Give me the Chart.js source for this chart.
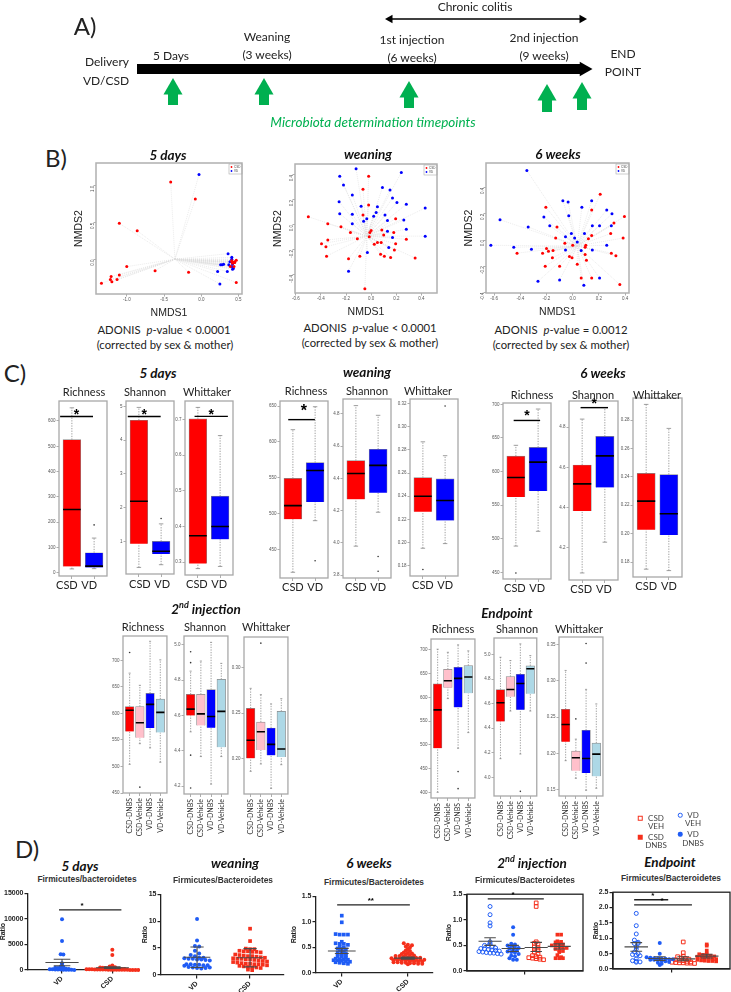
<!DOCTYPE html>
<html>
<head>
<meta charset="utf-8">
<title>Microbiota timepoints</title>
<script src="https://cdn.jsdelivr.net/npm/chart.js@4"></script>
<style>
  body { margin: 0; background: #fff; }
  #page { position: relative; width: 731px; height: 992px; overflow: hidden; }
  canvas { position: absolute; }
  .t { position: absolute; transform: translate(-50%, -50%); white-space: nowrap; font-family: Lato, sans-serif; color: #222; }
  .mark { position: absolute; box-sizing: border-box; transform: translate(-50%, -50%); }
</style>
</head>
<body>
<div id="page"></div>
<script>
// Panel A timeline
const timelineStart = 137, timelineEnd = 582, timelineHead = 584, timelineY = 69;
const colitisFrom = 390, colitisTo = 582, colitisY = 19;
const arrowX = [173, 264, 409, 547, 582];
const arrowTop = [79, 79, 82, 85, 83];
const arrowBottom = [105, 105, 108, 112, 110];

// Panel B ordinations [NMDS1, NMDS2]
const nmds5dCsd = [[-.41,1.05],[-.08,.82],[-1.10,.49],[-.86,.39],[-1.0,-.095],[-.62,-.15],[-.17,-.17],[-1.10,-.21],[-1.21,-.23],[-1.22,-.27],[-1.20,-.30],[-1.13,-.27],[-1.34,-.32],[.47,-.31],[.47,-.01],[.45,-.03],[.41,-.03],[.43,-.04],[.45,-.04],[.42,-.05],[.39,-.095],[.44,-.095],[.41,-.015]];
const nmds5dVd = [[-.03,1.15],[.36,.08],[.41,.03],[.41,.005],[.385,-.03],[.44,-.04],[.42,-.06],[.37,-.07],[.30,-.065],[.26,-.07],[.28,-.07],[.22,-.16],[.35,-.16],[.42,-.13],[.41,-.095],[.25,-.33],[.43,-.12]];
const nmds5dCentre = [-.354, .005];
const nmdsWeanVd = [[-.12,.45],[-.25,.39],[.24,.42],[-.22,.32],[.09,.30],[.15,.28],[-.15,.24],[.17,.215],[-.255,.185],[.205,.18],[.28,.165],[-.08,.15],[.05,.145],[.43,.135],[.04,.10],[-.25,.09],[-.15,.085],[.11,.08],[.02,.07],[-.035,.05],[.26,.04],[.13,.035],[-.06,.03],[-.15,.01],[.28,-.035],[.13,-.05],[.17,-.10],[.43,-.09],[.14,-.18],[-.03,-.22],[-.18,-.37]];
const nmdsWeanCsd = [[-.02,.39],[-.065,.285],[-.02,.16],[-.50,.065],[-.065,.08],[.195,.05],[-.345,.01],[-.24,-.015],[.085,-.04],[0,-.045],[-.01,-.06],[-.165,-.06],[.18,-.06],[.10,-.08],[-.015,-.095],[-.11,-.11],[-.345,-.12],[.28,-.115],[.05,-.14],[.08,-.14],[-.395,-.15],[.025,-.155],[.195,-.15],[-.36,-.175],[.185,-.20],[.075,-.235],[.105,-.25],[.155,-.26],[-.09,-.25],[-.355,-.25],[-.18,-.27],[.35,-.265],[-.05,-.51]];
const nmdsWeanCentre = [-.035, -.09];
const nmds6wVd = [[-.35,.53],[-.075,.30],[-.035,.29],[.145,.30],[.07,.25],[.26,.23],[.30,.20],[-.22,.175],[-.03,.185],[-.555,.155],[-.34,.10],[-.175,.11],[.15,.11],[.205,.11],[.295,.11],[-.01,.05],[.09,.05],[-.055,.025],[.015,.015],[.035,-.015],[-.625,-.04],[-.45,-.055],[-.315,-.07],[-.055,-.075],[.065,-.08],[.15,-.075],[.26,-.04],[-.10,-.305],[-.265,-.315],[.085,-.345],[.205,-.29]];
const nmds6wCsd = [[.21,.35],[-.205,.25],[.145,.23],[.395,.18],[.315,.13],[-.12,.10],[.29,.05],[-.13,.015],[.145,.035],[.385,.015],[.12,.01],[-.06,-.025],[0,-.04],[.10,-.04],[.095,-.055],[-.20,-.065],[-.15,-.08],[-.185,-.085],[-.23,-.10],[-.425,-.10],[.295,-.10],[.095,-.11],[.33,-.12],[-.025,-.125],[-.005,-.135],[-.155,-.135],[.105,-.155],[.035,-.185],[-.21,-.20],[-.10,-.20],[.065,-.29],[.145,-.29],[.36,-.34]];
const nmds6wCentre = [.035, -.045];

// Panel C boxes, each [low whisker, q1, median, q3, high whisker]
const groupsTwo = ['CSD', 'VD'];
const groupsFour = ['CSD-DNBS', 'CSD-Vehicle', 'VD-DNBS', 'VD-Vehicle'];
const rich5d = [[15,25,250,526,652],[16,21,26,79,137]];
const rich5dOut = [[],[189]];
const shan5d = [[.23,.93,2.19,4.59,4.97],[.31,.63,.71,1.0,1.52]];
const shan5dOut = [[],[1.68]];
const whit5d = [[.282,.296,.374,.702,.734],[.288,.364,.40,.485,.655]];
const whit5dOut = [[],[]];
const richWean = [[418,492,511,549,617],[490,516,560,571,649]];
const richWeanOut = [[],[434]];
const shanWean = [[3.98,4.27,4.43,4.51,4.85],[4.19,4.31,4.48,4.58,4.79]];
const shanWeanOut = [[],[3.916,3.825]];
const whitWean = [[.195,.2266,.24,.256,.287],[.199,.219,.2363,.255,.275]];
const whitWeanOut = [[.1766],[.318]];
const rich6w = [[489,562,591,623,639],[511,571,614,636,693]];
const rich6wOut = [[449],[]];
const shan6w = [[4.075,4.383,4.518,4.612,4.84],[4.228,4.5,4.657,4.754,4.897]];
const shan6wOut = [[],[]];
const whit6w = [[.175,.2027,.2229,.2425,.291],[.174,.199,.214,.2416,.2741]];
const whit6wOut = [[],[]];
const richInj = [[504,566,606,613,676],[543,554,582.5,613,653],[535,572.5,617,638,736],[508,564,602,627,701]];
const richInjOut = [[715],[461],[],[]];
const shanInj = [[4.507,4.6,4.636,4.72,4.851],[4.367,4.543,4.609,4.719,4.908],[4.211,4.53,4.594,4.746,5.014],[4.367,4.42,4.623,4.804,4.895]];
const shanInjOut = [[4.961,4.899,4.375,4.189],[],[],[]];
const whitInj = [[.1857,.20,.2199,.2551,.2772],[.1938,.2092,.2294,.24,.2702],[.1669,.2033,.2154,.2335,.26],[.193,.2015,.2103,.2518,.2658]];
const whitInjOut = [[],[.327],[],[]];
const richEnd = [[400,492.8,573.6,628.4,701.5],[597.5,621,635,659,695],[492.8,579,640,663.5,710.6],[525.8,608.7,643,667,698]];
const richEndOut = [[],[],[443.6,407.7],[]];
const shanEnd = [[4.152,4.455,4.607,4.715,4.978],[4.54,4.656,4.715,4.82,4.951],[4.19,4.55,4.764,4.84,5.087],[4.54,4.68,4.884,4.908,4.992]];
const shanEndOut = [[],[],[3.886],[]];
const whitEnd = [[.19,.216,.2398,.2609,.3144],[.1657,.1762,.194,.2032,.2197],[.1492,.173,.1931,.232,.2883],[.152,.1684,.199,.2142,.2682]];
const whitEndOut = [[],[.2476],[.3245,.3515],[]];

// Panel D ratios
const ratioGroupsTwo = ['VD', 'CSD'];
const ratio5dVd = [9890,5680,3060,3040,1300,1150,700,600,450,400,300,300,250,200,150,150,100,100,80,60,50,40,30,20];
const ratio5dCsd = [3960,2930,890,700,600,550,500,450,400,350,300,300,250,250,200,200,150,150,150,100,100,100,80,80,60,60,50,50,40,40,30,30,20,20,10,10];
const ratio5dMean = [1470,450];
const ratio5dErr = [[830,2100],[300,620]];
const ratioWeanVd = [10.4,6.4,5.4,5.3,4.5,4.0,3.7,3.5,3.2,3.2,3.1,3.0,3.0,2.9,2.9,2.8,2.7,2.0,2.0,1.9,1.9,1.8,1.7,1.8,1.5,1.4,1.3,1.2,1.3,1.4];
const ratioWeanCsd = [8.6,6.3,4.9,4.8,4.8,4.5,4.4,4.4,4.3,4.3,4.2,3.8,3.7,3.6,3.5,3.5,3.4,3.3,3.2,3.1,3.0,3.0,2.9,2.9,2.8,2.7,2.6,2.5,2.4,2.3,2.2,2.1,2.1,2.0,2.0,1.9,1.8,1.7,1.6,1.5,1.4,1.4,1.3,1.0,.9];
const ratioWeanMean = [3.3,3.2];
const ratioWeanErr = [[1.4,5.2],[1.5,4.9]];
const ratio6wVd = [1.12,.99,.76,.75,.75,.75,.61,.58,.57,.57,.55,.52,.5,.48,.47,.46,.44,.42,.40,.39,.38,.36,.35,.34,.33,.32,.3,.28,.27,.27,.26,.25,.25,.24,.23,.22,.21,.2,.19,.18];
const ratio6wCsd = [.58,.55,.54,.52,.5,.47,.44,.43,.4,.39,.38,.37,.36,.35,.34,.33,.33,.32,.31,.3,.3,.3,.29,.29,.28,.28,.27,.27,.26,.26,.26,.25,.25,.24,.24,.23,.23,.22,.22,.21,.21,.2,.2,.19,.19,.18,.18,.17];
const ratio6wMean = [.43,.29];
const ratio6wErr = [[.38,.48],[.27,.31]];
const ratioInjVdVeh = [1.26,1.1,.94,.88,.57,.53,.5,.49,.47,.45,.44,.43,.42,.41,.4,.39,.38,.37,.36,.35,.35,.34,.33];
const ratioInjVdDnbs = [.855,.71,.53,.52,.5,.49,.47,.45,.44,.42,.4,.38,.37,.36,.33,.3,.29,.25,.22,.22];
const ratioInjCsdVeh = [1.33,1.26,.57,.54,.53,.47,.45,.42,.4,.37,.34,.3,.28,.27,.26,.25,.24,.23,.22];
const ratioInjCsdDnbs = [.71,.71,.58,.57,.56,.54,.52,.5,.5,.48,.46,.45,.43,.41,.39,.37,.31,.27,.25,.25,.25];
const ratioInjMean = [.58,.44,.46,.48];
const ratioInjErr = [[.5,.65],[.38,.5],[.38,.56],[.43,.53]];
const ratioEndVdVeh = [1.81,1.41,1.14,.94,.87,.83,.83,.72,.65,.55,.5,.47,.45,.43,.33,.27,.25,.23,.22];
const ratioEndVdDnbs = [.85,.5,.38,.37,.35,.34,.33,.33,.32,.32,.3,.3,.29,.27,.25,.23,.2,.17,.13];
const ratioEndCsdVeh = [.88,.53,.42,.4,.36,.34,.32,.3,.28,.27,.25,.23,.22,.21,.2,.2,.19,.19,.18];
const ratioEndCsdDnbs = [.8,.76,.6,.5,.48,.46,.45,.43,.41,.4,.39,.38,.36,.34,.32,.3,.28,.27,.26,.26,.25];
const ratioEndMean = [.72,.34,.33,.42];
const ratioEndErr = [[.58,.86],[.28,.4],[.27,.4],[.36,.48]];

Chart.defaults.animation = false;
Chart.defaults.responsive = false;
Chart.defaults.font.family = 'Lato';

const page = document.getElementById('page');
const RED = '#ff0000', BLUE = '#0000ff', PINK = '#ffc0cb', LIGHTBLUE = '#add8e6';
const DOT_BLUE = '#1f5cf5', DOT_RED = '#f5301c', GREEN = '#00b050';

function text(html, x, y, style) {
    const d = document.createElement('div');
    d.className = 't';
    d.innerHTML = html;
    d.style.left = x + 'px';
    d.style.top = y + 'px';
    d.style.cssText += ';' + (style || 'font-size:12px');
    page.appendChild(d);
}

function seg(list) {
    const out = [];
    list.forEach(s => out.push({x: s[0], y: s[1]}, {x: s[2], y: s[3]}, {x: NaN, y: NaN}));
    return out;
}

function lineSet(data, color, width, dash, order) {
    return {type: 'scatter', showLine: true, data: data, borderColor: color, borderWidth: width,
        borderDash: dash || [], pointRadius: 0, order: order || 0, clip: false};
}

// spreads values sideways into rows like a prism dot plot
function swarm(values, center, step, bin) {
    const rows = {};
    values.forEach(v => {
        const k = Math.round(v / bin);
        (rows[k] = rows[k] || []).push(v);
    });
    return Object.values(rows).flatMap(r => r.map((v, i) => ({x: center + (i - (r.length - 1) / 2) * step, y: v})));
}

// frame, significance text and the tiny R legend, placed with the chart scales
function extras(o) {
    return {
        id: 'extras',
        afterDraw(chart) {
            const c = chart.ctx, a = chart.chartArea;
            c.save();
            if (o.frame) {
                c.strokeStyle = o.frame;
                c.lineWidth = o.frameWidth || 1.2;
                c.strokeRect(a.left, a.top, a.width, a.height);
            }
            (o.stars || []).forEach(s => {
                c.fillStyle = '#000';
                c.font = 'bold ' + s.size + 'px "Liberation Sans"';
                c.textAlign = 'center';
                c.textBaseline = 'middle';
                c.fillText(s.text, chart.scales.x.getPixelForValue(s.x), chart.scales.y.getPixelForValue(s.y) + s.dy);
            });
            if (o.legend) {
                const w = 13, h = 10, x = a.right - w, y = a.top + 1;
                c.strokeStyle = '#aaa';
                c.lineWidth = .6;
                c.strokeRect(x, y, w, h);
                c.font = '3px "Liberation Sans"';
                c.textAlign = 'left';
                c.textBaseline = 'middle';
                [[RED, 'CSD', 3], [BLUE, 'VD', 7]].forEach(l => {
                    c.fillStyle = l[0];
                    c.beginPath();
                    c.arc(x + 2.5, y + l[2], .9, 0, 7);
                    c.fill();
                    c.fillStyle = '#444';
                    c.fillText(l[1], x + 5, y + l[2]);
                });
            }
            c.restore();
        }
    };
}

// makes a chart whose plot area sits exactly on frame [left, top, right, bottom]
function plot(frame, m, config) {
    const cv = document.createElement('canvas');
    cv.width = frame[2] - frame[0] + m.l + m.r;
    cv.height = frame[3] - frame[1] + m.t + m.b;
    cv.style.left = (frame[0] - m.l) + 'px';
    cv.style.top = (frame[1] - m.t) + 'px';
    page.appendChild(cv);
    config.options.layout = {autoPadding: false, padding: {top: m.t, right: m.r, left: 0, bottom: 0}};
    config.options.scales.x.afterFit = s => { s.height = m.b; };
    config.options.scales.y.afterFit = s => { s.width = m.l; };
    config.options.plugins = {legend: {display: false}, tooltip: {enabled: false}};
    return new Chart(cv, config);
}

function fixedTicks(vals) {
    return s => { s.ticks = vals.map(value => ({value})); };
}

// Panel A
plot([0, 0, 731, 135], {l: 0, r: 0, t: 0, b: 0}, {
    type: 'scatter',
    data: {datasets: [
        lineSet(seg([[timelineStart, timelineY, timelineEnd, timelineY]]), '#000', 10),
        {data: [{x: timelineHead, y: timelineY}], pointStyle: 'triangle', pointRadius: 8.5, pointRotation: 90, pointBackgroundColor: '#000', pointBorderWidth: 0},
        lineSet(seg([[colitisFrom, colitisY, colitisTo, colitisY]]), '#000', 1.5),
        {data: [{x: colitisFrom, y: colitisY}], pointStyle: 'triangle', pointRadius: 5, pointRotation: -90, pointBackgroundColor: '#000', pointBorderWidth: 0},
        {data: [{x: colitisTo, y: colitisY}], pointStyle: 'triangle', pointRadius: 5, pointRotation: 90, pointBackgroundColor: '#000', pointBorderWidth: 0},
        lineSet(seg(arrowX.map((x, i) => [x, arrowTop[i] + 8, x, arrowBottom[i]])), GREEN, 10),
        {data: arrowX.map((x, i) => ({x: x, y: arrowTop[i] + 10})), pointStyle: 'triangle', pointRadius: 11, pointBackgroundColor: GREEN, pointBorderWidth: 0}
    ]},
    options: {scales: {
        x: {display: false, min: 0, max: 731},
        y: {display: false, min: 0, max: 135, reverse: true}
    }}
});

const headLetter = 'font-size:24px';
const bigTitle = 'font-size:13.5px;font-weight:700;font-style:italic;color:#111';
const plain = 'font-size:11.3px;color:#222';
const timeline = 'font-size:12px;color:#222';
text('A)', 85, 25, headLetter);
text('Chronic colitis', 475, 6, timeline);
text('Delivery', 107, 61, timeline);
text('VD/CSD', 106, 80, timeline);
text('5 Days', 171, 55, timeline);
text('Weaning', 267, 36, timeline);
text('(3 weeks)', 267, 54, timeline);
text('1st injection', 412, 39, timeline);
text('(6 weeks)', 412, 57, timeline);
text('2nd injection', 544, 37, timeline);
text('(9 weeks)', 544, 55, timeline);
text('END', 623, 53, timeline);
text('POINT', 623, 71, timeline);
text('Microbiota determination timepoints', 373, 122, 'font-size:13.5px;font-style:italic;color:#00b050');

// Panel B
function nmdsPlot(frame, rangeX, rangeY, ticksX, ticksY, csd, vd, centre) {
    const pts = a => a.map(p => ({x: p[0], y: p[1]}));
    const spokes = csd.concat(vd).map(p => [centre[0], centre[1], p[0], p[1]]);
    const axis = vals => ({
        afterBuildTicks: fixedTicks(vals),
        grid: {drawOnChartArea: false, tickLength: 2.5, color: '#777', lineWidth: .6},
        border: {display: false}
    });
    const tick = {font: {size: 4.5, family: 'Liberation Sans'}, color: '#555', padding: 1, autoSkip: false, callback: v => v.toFixed(1)};
    const title = t => ({display: true, text: t, font: {size: 10.5, family: 'Liberation Sans'}, color: '#222', padding: 1});
    plot(frame, {l: 24, r: 2, t: 4, b: 26}, {
        type: 'scatter',
        data: {datasets: [
            {data: pts(csd), pointRadius: 1.5, pointBackgroundColor: RED, pointBorderWidth: 0, order: 0},
            {data: pts(vd), pointRadius: 1.5, pointBackgroundColor: BLUE, pointBorderWidth: 0, order: 0},
            lineSet(seg(spokes), '#dedede', .6, [1, 1], 5)
        ]},
        options: {scales: {
            x: Object.assign(axis(ticksX), {min: rangeX[0], max: rangeX[1], ticks: Object.assign({maxRotation: 0}, tick), title: title('NMDS1')}),
            y: Object.assign(axis(ticksY), {min: rangeY[0], max: rangeY[1], ticks: Object.assign({minRotation: 90, maxRotation: 90}, tick), title: title('NMDS2')})
        }},
        plugins: [extras({frame: '#b0b0b0', frameWidth: 1.5, legend: true})]
    });
}

nmdsPlot([96, 163, 242, 294], [-1.413, .547], [-.466, 1.307], [-1, -.5, 0, .5], [0, .5, 1], nmds5dCsd, nmds5dVd, nmds5dCentre);
nmdsPlot([295, 164, 437, 293], [-.606, .524], [-.545, .487], [-.6, -.4, -.2, 0, .2, .4], [-.4, -.2, 0, .2, .4], nmdsWeanCsd, nmdsWeanVd, nmdsWeanCentre);
nmdsPlot([486, 163, 629, 293], [-.662, .43], [-.404, .588], [-.6, -.4, -.2, 0, .2, .4], [-.4, -.2, 0, .2, .4], nmds6wCsd, nmds6wVd, nmds6wCentre);

text('B)', 56, 157, headLetter);
text('5 days', 168, 155, bigTitle);
text('weaning', 368, 154, bigTitle);
text('6 weeks', 558, 154, bigTitle);
text('ADONIS &nbsp;<i>p</i>-value &lt; 0.0001', 164, 329, plain);
text('(corrected by sex &amp; mother)', 165, 344, plain);
text('ADONIS &nbsp;<i>p</i>-value &lt; 0.0001', 370, 327, plain);
text('(corrected by sex &amp; mother)', 370, 342, plain);
text('ADONIS &nbsp;<i>p</i>-value = 0.0012', 561, 329, plain);
text('(corrected by sex &amp; mother)', 561, 344, plain);

// Panel C
function boxPlot(p) {
    const n = p.stats.length;
    const rangeX = n === 2 ? [.42, 2.58] : [.35, 4.65];
    const width = (p.frame[2] - p.frame[0]) / (rangeX[1] - rangeX[0]) * .8;
    const colors = n === 2 ? [RED, BLUE] : [RED, PINK, BLUE, LIGHTBLUE];
    const names = n === 2 ? groupsTwo : groupsFour;
    const whisk = [], caps = [], medians = [], dots = [];
    p.stats.forEach((b, i) => {
        const x = i + 1;
        whisk.push([x, b[0], x, b[1]], [x, b[3], x, b[4]]);
        caps.push([x - .1, b[0], x + .1, b[0]], [x - .1, b[4], x + .1, b[4]]);
        medians.push([x - .4, b[2], x + .4, b[2]]);
        p.out[i].forEach(v => dots.push({x: x, y: v}));
    });
    const sets = [
        lineSet(seg(medians), '#000', 1.6, null, 0),
        {type: 'bar', data: p.stats.map((b, i) => ({x: i + 1, y: [b[1], b[3]]})), backgroundColor: colors,
            borderColor: '#8a8a8a', borderWidth: .7, barThickness: width, order: 1},
        lineSet(seg(whisk), '#777', .7, [1.3, 1.3], 2),
        lineSet(seg(caps), '#777', .7, null, 2),
        {type: 'scatter', data: dots, pointRadius: .8, pointBackgroundColor: '#333', pointBorderWidth: 0, order: 2}
    ];
    const stars = [];
    if (p.sig) {
        sets.unshift(lineSet(seg([[p.sig[0], p.sig[2], p.sig[1], p.sig[2]]]), '#000', 1.4));
        stars.push({x: (p.sig[0] + p.sig[1]) / 2 + (p.sig[4] || 0), y: p.sig[2], text: '*', size: p.starSize || 14, dy: p.sig[3]});
    }
    plot(p.frame, {l: 16, r: 2, t: 4, b: n === 2 ? 22 : 46}, {
        type: 'bar',
        data: {datasets: sets},
        options: {scales: {
            x: {type: 'linear', offset: false, min: rangeX[0], max: rangeX[1],
                afterBuildTicks: fixedTicks(names.map((_, i) => i + 1)),
                grid: {offset: false, drawOnChartArea: false, tickLength: 3, color: '#777', lineWidth: .6},
                border: {display: false},
                ticks: n === 2
                    ? {font: {size: 11}, color: '#222', padding: p.labelPad || 0, labelOffset: p.labelShift || 0, maxRotation: 0, autoSkip: false, callback: v => names[v - 1]}
                    : {font: {size: 7}, color: '#333', padding: 2, minRotation: 90, maxRotation: 90, autoSkip: false, callback: v => names[v - 1]}},
            y: {min: p.rangeY[0], max: p.rangeY[1],
                afterBuildTicks: fixedTicks(p.ticks),
                grid: {drawOnChartArea: false, tickLength: 2.5, color: '#777', lineWidth: .6},
                border: {display: false},
                ticks: {font: {size: 4.5, family: 'Liberation Sans'}, color: '#555', padding: 1, autoSkip: false, callback: v => v.toFixed(p.dec)}}
        }},
        plugins: [extras({frame: '#a8a8a8', frameWidth: 1.3, stars: stars})]
    });
}

const boxPanels = [
    {frame: [59.3, 401, 107.3, 576], stats: rich5d, out: rich5dOut, rangeY: [-13, 679], ticks: [0,100,200,300,400,500,600], dec: 0, sig: [.47, 1.95, 618, -1], labelShift: -5},
    {frame: [126, 400.7, 174, 574], stats: shan5d, out: shan5dOut, rangeY: [.035, 5.16], ticks: [1,2,3,4,5], dec: 0, sig: [.5, 1.98, 4.70, -1], labelShift: 1, labelPad: 1},
    {frame: [184.7, 400.7, 232.7, 574.7], stats: whit5d, out: whit5dOut, rangeY: [.264, .752], ticks: [.3,.4,.5,.6,.7], dec: 1, sig: [.85, 2.35, .709, -1], labelShift: -1},
    {frame: [280, 400.7, 328.3, 578.3], stats: richWean, out: richWeanOut, rangeY: [410, 657], ticks: [450,500,550,600,650], dec: 0, sig: [.79, 1.99, 631, -8, .1], starSize: 16, labelShift: 0},
    {frame: [343, 399, 391.7, 578], stats: shanWean, out: shanWeanOut, rangeY: [3.783, 4.891], ticks: [3.8,4,4.2,4.4,4.6,4.8], dec: 1, labelShift: 0},
    {frame: [410.3, 399.3, 459, 577.3], stats: whitWean, out: whitWeanOut, rangeY: [.171, .324], ticks: [.18,.2,.22,.24,.26,.28,.3,.32], dec: 2, labelShift: 0},
    {frame: [503.3, 402.7, 552.3, 579.3], stats: rich6w, out: rich6wOut, rangeY: [440, 702], ticks: [450,500,550,600,650,700], dec: 0, sig: [.9, 2.09, 676, -4], labelShift: -1},
    {frame: [569.3, 401, 619, 580.7], stats: shan6w, out: shan6wOut, rangeY: [4.04, 4.93], ticks: [4.2,4.4,4.6,4.8], dec: 1, sig: [.93, 2.14, 4.897, -3], labelShift: -1},
    {frame: [632.7, 398, 681.7, 577.3], stats: whit6w, out: whit6wOut, rangeY: [.1695, .2955], ticks: [.18,.2,.22,.24,.26,.28], dec: 2, labelShift: 0},
    {frame: [123.3, 636, 169.3, 793.3], stats: richInj, out: richInjOut, rangeY: [450, 746], ticks: [450,500,550,600,650,700], dec: 0},
    {frame: [184.3, 636, 230.7, 794], stats: shanInj, out: shanInjOut, rangeY: [4.155, 5.05], ticks: [4.2,4.4,4.6,4.8,5], dec: 1},
    {frame: [244.3, 637, 290.3, 794], stats: whitInj, out: whitInjOut, rangeY: [.1607, .3338], ticks: [.2,.25,.3], dec: 2},
    {frame: [431, 639, 477.3, 798], stats: richEnd, out: richEndOut, rangeY: [388, 723], ticks: [400,450,500,550,600,650,700], dec: 0},
    {frame: [494.3, 638.3, 540.3, 796.7], stats: shanEnd, out: shanEndOut, rangeY: [3.848, 5.135], ticks: [4,4.2,4.4,4.6,4.8,5], dec: 1},
    {frame: [559.3, 637, 605.7, 796.7], stats: whitEnd, out: whitEndOut, rangeY: [.1413, .3605], ticks: [.15,.2,.25,.3,.35], dec: 2}
];
boxPanels.forEach(boxPlot);

const metric = 'font-size:11px;color:#222';
text('C)', 15, 372, headLetter);
text('5 days', 158, 373, bigTitle);
text('weaning', 367, 372, bigTitle);
text('6 weeks', 603, 373, bigTitle);
[[84, 391, 145, 391, 207, 391], [306, 390, 367, 390, 428, 390], [532, 394, 593, 394, 657, 394], [143, 626, 205, 626, 266, 626], [453, 628, 517, 628, 579, 628]].forEach(r => {
    text('Richness', r[0], r[1], metric);
    text('Shannon', r[2], r[3], metric);
    text('Whittaker', r[4], r[5], metric);
});
text('2<sup style="font-size:9px">nd</sup> injection', 206, 608, bigTitle);
text('Endpoint', 507, 613, bigTitle);

// Panel D
function dotPlot(p) {
    const sets = [];
    p.groups.forEach((g, i) => {
        sets.push({
            data: swarm(g.values, i + 1, p.step, p.bin), pointStyle: g.style, pointRadius: g.style === 'rect' ? 2.6 : 2,
            pointBackgroundColor: g.open ? 'rgba(255,255,255,0)' : g.color, pointBorderColor: g.color,
            pointBorderWidth: g.open ? 1 : 0, order: 2, clip: false
        });
    });
    const bars = [];
    p.mean.forEach((m, i) => {
        const x = i + 1, e = p.err[i];
        bars.push([x - p.half, m, x + p.half, m], [x, e[0], x, e[1]],
            [x - p.half / 2, e[0], x + p.half / 2, e[0]], [x - p.half / 2, e[1], x + p.half / 2, e[1]]);
    });
    sets.push(lineSet(seg(bars), '#4a4a4a', 1.1, null, 1));
    const stars = [];
    (p.sig || []).forEach(s => {
        sets.push(lineSet(seg([[s[0], s[2], s[1], s[2]]]), '#222', 1.3));
        stars.push({x: s[4], y: s[2], text: s[3], size: 8, dy: -4});
    });
    const tickFont = {size: 7, weight: 'bold', family: 'Liberation Sans'};
    const line = {drawOnChartArea: false, tickLength: 3.5, color: '#222', lineWidth: 1.2};
    plot(p.frame, {l: p.left, r: 2, t: 4, b: 21}, {
        type: 'scatter',
        data: {datasets: sets},
        options: {scales: {
            x: {min: p.rangeX[0], max: p.rangeX[1],
                afterBuildTicks: fixedTicks(p.names ? [1, 2] : [2.5]),
                grid: line, border: {color: '#222', width: 1.3},
                ticks: {font: tickFont, color: '#222', padding: 1, autoSkip: false, minRotation: 45, maxRotation: 45, callback: v => p.names ? p.names[v - 1] : ''}},
            y: {min: p.rangeY[0], max: p.rangeY[1],
                afterBuildTicks: fixedTicks(p.ticks),
                grid: line, border: {color: '#222', width: 1.3},
                title: {display: true, text: 'Ratio', font: tickFont, color: '#222', padding: 0},
                ticks: {font: tickFont, color: '#222', padding: 1, autoSkip: false, callback: v => v.toFixed(p.dec)}}
        }},
        plugins: [extras({frame: p.boxed ? '#222' : null, frameWidth: 1.3, stars: stars})]
    });
}

const dotPanels = [
    {frame: [28.3, 891.7, 138.3, 970], rangeX: [.324, 2.51], rangeY: [0, 15000], ticks: [0,5000,10000,15000], dec: 0, left: 29, names: ratioGroupsTwo, step: .054, bin: 350,
        groups: [{values: ratio5dVd, color: DOT_BLUE, style: 'circle'}, {values: ratio5dCsd, color: DOT_RED, style: 'circle'}],
        mean: ratio5dMean, err: ratio5dErr, half: .33, sig: [[.94, 2.18, 11740, '*', 1.4]]},
    {frame: [161.3, 892.7, 285, 975.3], rangeX: [.32, 2.64], rangeY: [0, 15], ticks: [0,5,10,15], dec: 0, left: 20, names: ratioGroupsTwo, step: .08, bin: .7,
        groups: [{values: ratioWeanVd, color: DOT_BLUE, style: 'circle'}, {values: ratioWeanCsd, color: DOT_RED, style: 'rect'}],
        mean: ratioWeanMean, err: ratioWeanErr, half: .25},
    {frame: [315.7, 895, 432.7, 973.7], rangeX: [.61, 2.38], rangeY: [0, 1.5], ticks: [0,.5,1,1.5], dec: 1, left: 26, names: ratioGroupsTwo, step: .062, bin: .04,
        groups: [{values: ratio6wVd, color: DOT_BLUE, style: 'rect'}, {values: ratio6wCsd, color: DOT_RED, style: 'circle'}],
        mean: ratio6wMean, err: ratio6wErr, half: .21, sig: [[.93, 2.03, 1.33, '**', 1.44]]},
    {frame: [467.3, 892.5, 584, 971.2], boxed: true, rangeX: [0, 5.03], rangeY: [0, 1.5], ticks: [0,.5,1,1.5], dec: 1, left: 22, step: .16, bin: .06,
        groups: [{values: ratioInjVdVeh, color: DOT_BLUE, style: 'circle', open: true}, {values: ratioInjVdDnbs, color: DOT_BLUE, style: 'circle'},
            {values: ratioInjCsdVeh, color: DOT_RED, style: 'rect', open: true}, {values: ratioInjCsdDnbs, color: DOT_RED, style: 'rect'}],
        mean: ratioInjMean, err: ratioInjErr, half: .5, sig: [[.9, 3.33, 1.407, '*', 2]]},
    {frame: [612.7, 890.7, 730, 969.3], boxed: true, rangeX: [.01, 4.99], rangeY: [0, 2.5], ticks: [0,.5,1,1.5,2,2.5], dec: 1, left: 21, step: .16, bin: .09,
        groups: [{values: ratioEndVdVeh, color: DOT_BLUE, style: 'circle', open: true}, {values: ratioEndVdDnbs, color: DOT_BLUE, style: 'circle'},
            {values: ratioEndCsdVeh, color: DOT_RED, style: 'rect', open: true}, {values: ratioEndCsdDnbs, color: DOT_RED, style: 'rect'}],
        mean: ratioEndMean, err: ratioEndErr, half: .5, sig: [[.91, 2.36, 2.255, '*', 1.7], [.91, 3.37, 2.085, '*', 2.1]]}
];
dotPanels.forEach(dotPlot);

const firmi = 'font-family:Liberation Sans;font-size:8.4px;font-weight:700;color:#333';
text('D)', 27, 848, headLetter);
text('5 days', 80, 866, bigTitle);
text('weaning', 235, 863, bigTitle);
text('6 weeks', 369, 863, bigTitle);
text('2<sup style="font-size:9px">nd</sup> injection', 532, 862, bigTitle);
text('Endpoint', 670, 862, bigTitle);
text('Firmicutes/bacteroidetes', 87, 879, firmi);
text('Firmicutes/Bacteroidetes', 223, 880, firmi);
text('Firmicutes/Bacteroidetes', 374, 882, firmi);
text('Firmicutes/Bacteroidetes', 525, 880, firmi);
text('Firmicutes/Bacteroidetes', 671, 878, firmi);

// Panel D legend
const legendFont = 'font-size:8px;color:#444';
[[640, 818, 'border:1.2px solid ' + DOT_RED, ['CSD', 'VEH'], 656, 817.5, 825.5],
 [640, 837, 'background:' + DOT_RED, ['CSD', 'DNBS'], 656, 836.5, 845],
 [680, 815, 'border:1.2px solid ' + DOT_BLUE + ';border-radius:50%', ['VD', 'VEH'], 693, 815, 823],
 [680, 834, 'background:' + DOT_BLUE + ';border-radius:50%', ['VD', 'DNBS'], 693, 834, 842.5]].forEach(l => {
    const mk = document.createElement('div');
    mk.className = 'mark';
    mk.style.cssText = 'left:' + l[0] + 'px;top:' + l[1] + 'px;width:4.5px;height:4.5px;' + l[2];
    page.appendChild(mk);
    text(l[3][0], l[4], l[5], legendFont);
    text(l[3][1], l[4], l[6], legendFont);
});
</script>
</body>
</html>
